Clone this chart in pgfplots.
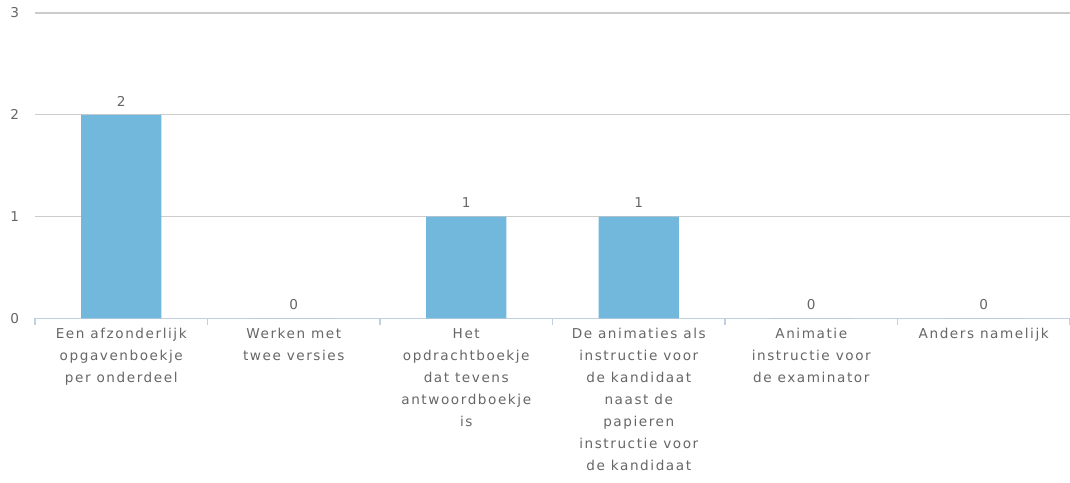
\documentclass[border=0pt]{standalone}
\usepackage{pgfplots}
\pgfplotsset{compat=1.18}
\usepackage{fontspec}
\setmainfont{DejaVu Sans}[LetterSpace=11.5]
\definecolor{barc}{HTML}{72B8DD}
\definecolor{gridc}{HTML}{CCCCCC}
\definecolor{axc}{HTML}{C0D0E0}
\definecolor{txt}{HTML}{666666}
\begin{document}
\begin{tikzpicture}
\begin{axis}[
    scale only axis,
    width=776pt, height=229pt,
    xmin=-0.5, xmax=5.5,
    ymin=0, ymax=3,
    ytick={0,1,2,3},
    xtick={0,...,5},
    xticklabels={
        {Een afzonderlijk\\opgavenboekje\\per onderdeel},
        {Werken met\\twee versies},
        {Het\\opdrachtboekje\\dat tevens\\antwoordboekje\\is},
        {De animaties als\\instructie voor\\de kandidaat\\naast de\\papieren\\instructie voor\\de kandidaat},
        {Animatie\\instructie voor\\de examinator},
        {Anders namelijk}},
    minor xtick={-0.5,0.5,...,5.5},
    major tick length=0pt,
    minor tick length=5pt,
    tick align=outside,
    axis x line*=bottom,
    axis y line*=left,
    x axis line style={draw=axc, line width=1pt, -},
    y axis line style={draw=none},
    minor x tick style={draw=axc, line width=1pt},
    ytick style={draw=none},
    ymajorgrids,
    grid style={draw=gridc, line width=0.8pt},
    /pgf/number format/assume math mode=true,
    tick label style={font=\fontsize{10.2}{16.5}\selectfont, text=txt},
    x tick label style={align=center, yshift=-4pt},
    y tick label style={xshift=-8.5pt},
    ybar,
    bar width=0.464,
    nodes near coords,
    every node near coord/.append style={font=\fontsize{10.2}{11}\selectfont, text=txt, yshift=3pt},
    clip=false,
]
\addplot[fill=barc, draw=none] coordinates {
    (0,2) (1,0) (2,1) (3,1) (4,0) (5,0)
};
\end{axis}
\pgfresetboundingbox
\path[use as bounding box] ([xshift=-26.25pt,yshift=-123pt]current axis.south west) rectangle ([yshift=9.75pt]current axis.north east);
\end{tikzpicture}
\end{document}
